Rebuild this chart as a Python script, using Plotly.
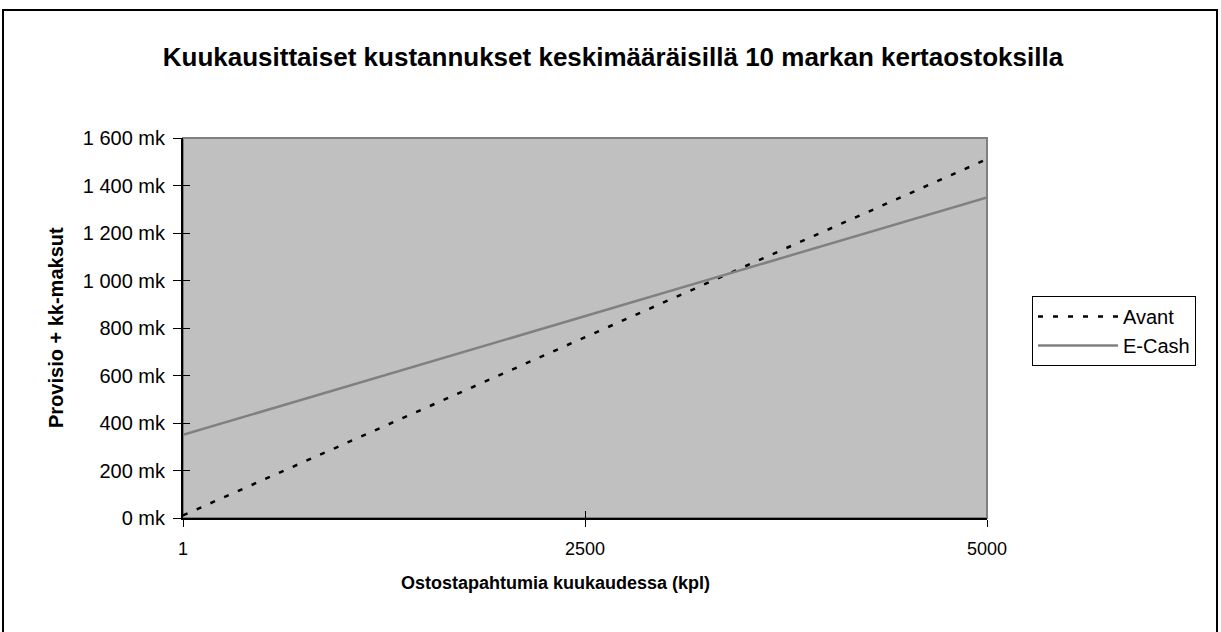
import plotly.graph_objects as go

categories = ["1", "2500", "5000"]
avant = [11, 761, 1511]
ecash = [350, 850, 1350]
y_tickvals = [0, 200, 400, 600, 800, 1000, 1200, 1400, 1600]
y_ticktext = ["0 mk", "200 mk", "400 mk", "600 mk", "800 mk", "1 000 mk", "1 200 mk", "1 400 mk", "1 600 mk"]

W, H = 1221, 632
L, R, T, B = 183, 987, 138, 518
pw, ph = R - L, B - T

def px(x):
    return (x - L) / pw

def py(y):
    return (B - y) / ph

FONT = "Liberation Sans, Arial, sans-serif"

fig = go.Figure()
fig.add_trace(go.Scatter(x=categories, y=avant, mode="lines", name="Avant",
                         line=dict(color="black", width=2.5, dash="5px,10px")))
fig.add_trace(go.Scatter(x=categories, y=ecash, mode="lines", name="E-Cash",
                         line=dict(color="#808080", width=2.5)))
# invisible trace to activate overlay axes (for cross ticks)
fig.add_trace(go.Scatter(x=categories, y=[None, None, None], xaxis="x2", yaxis="y2",
                         showlegend=False, hoverinfo="skip"))

fig.update_layout(
    width=W, height=H,
    margin=dict(l=L, r=W - R, t=T, b=H - B),
    paper_bgcolor="white",
    plot_bgcolor="#C0C0C0",
    font=dict(family=FONT, size=20, color="black"),
    title=dict(text="<b>Kuukausittaiset kustannukset keskimääräisillä 10 markan kertaostoksilla</b>",
               x=0.502, xanchor="center", y=1 - 57 / H, yanchor="middle",
               font=dict(family=FONT, size=26, color="black")),
    xaxis=dict(type="category", range=[0, 2], showgrid=False, zeroline=False,
               showline=True, linecolor="black", linewidth=2,
               ticks="outside", ticklen=7, tickcolor="black", tickwidth=1,
               tickfont=dict(size=18), ticklabelstandoff=6),
    yaxis=dict(range=[0, 1600], tickvals=y_tickvals, ticktext=y_ticktext,
               showgrid=False, zeroline=False, showline=True, linecolor="black", linewidth=2,
               ticks="outside", ticklen=8, tickcolor="black", tickwidth=1,
               tickfont=dict(size=20), ticklabelstandoff=4),
    xaxis2=dict(type="category", range=[0, 2], overlaying="x", side="bottom",
                showgrid=False, zeroline=False, showline=False,
                ticks="inside", ticklen=7, tickcolor="black", tickwidth=1,
                showticklabels=False),
    yaxis2=dict(range=[0, 1600], tickvals=y_tickvals, overlaying="y", side="left",
                showgrid=False, zeroline=False, showline=False,
                ticks="inside", ticklen=7, tickcolor="black", tickwidth=1,
                showticklabels=False),
    legend=dict(x=px(1032), y=py(296), xanchor="left", yanchor="top",
                bgcolor="white", bordercolor="black", borderwidth=1,
                font=dict(size=20, color="black"), itemwidth=80,
                tracegroupgap=0),
    showlegend=True,
)

fig.add_shape(type="rect", xref="paper", yref="paper", x0=0, x1=1, y0=0, y1=1,
              line=dict(color="#808080", width=2), layer="below")
fig.add_shape(type="rect", xref="paper", yref="paper",
              x0=px(3), x1=px(1217), y0=py(640), y1=py(10),
              line=dict(color="black", width=2), fillcolor="rgba(0,0,0,0)", layer="below")

fig.add_annotation(text="<b>Provisio + kk-maksut</b>", xref="paper", yref="paper",
                   x=px(56), y=0.5, textangle=-90, showarrow=False,
                   xanchor="center", yanchor="middle", font=dict(size=20, color="black"))
fig.add_annotation(text="<b>Ostostapahtumia kuukaudessa (kpl)</b>", xref="paper", yref="paper",
                   x=px(555), y=py(583), showarrow=False,
                   xanchor="center", yanchor="middle", font=dict(size=18, color="black"))

fig.write_html("out.html", config={"displayModeBar": False},
               post_script="document.body.style.margin='0';")
